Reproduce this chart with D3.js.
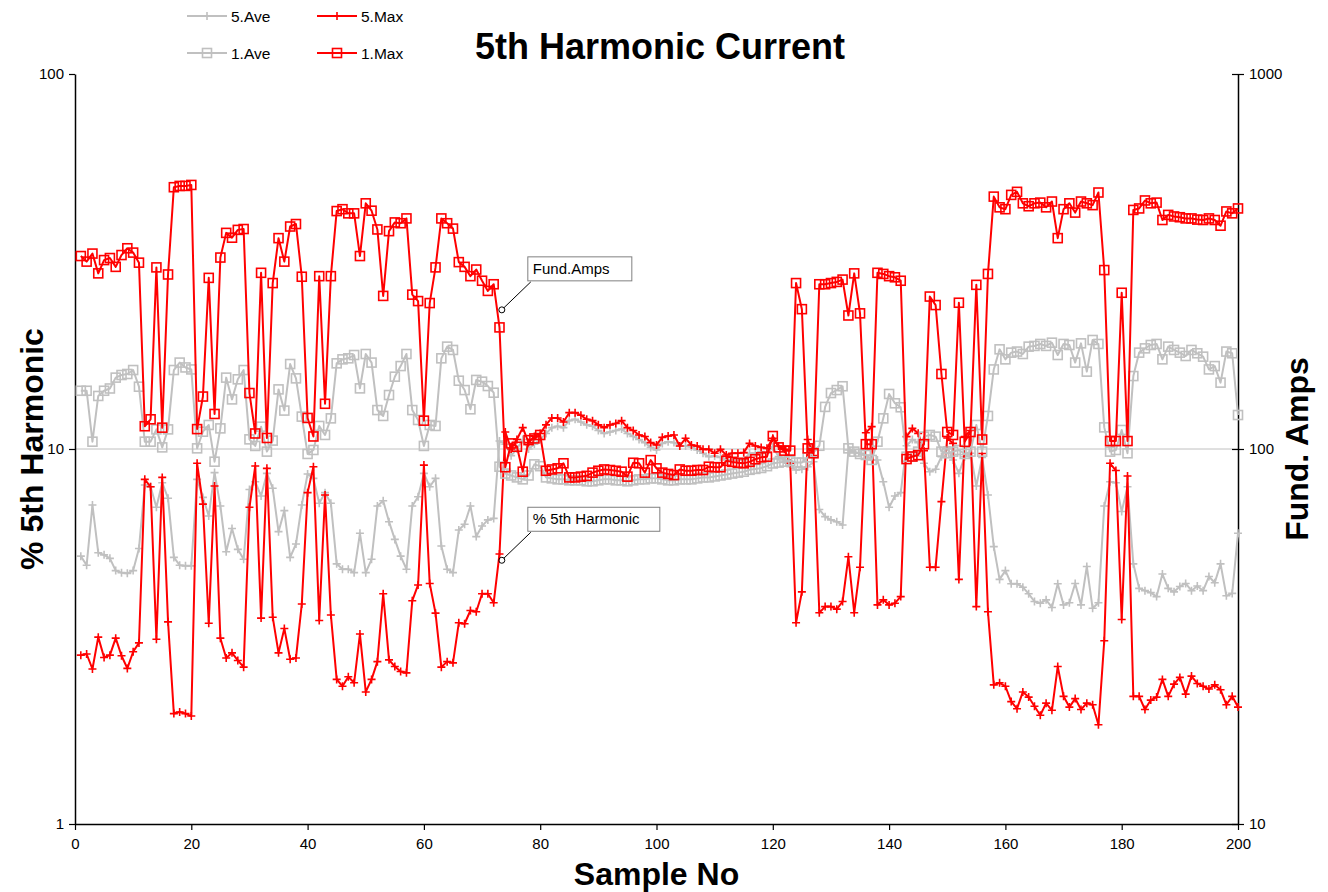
<!DOCTYPE html>
<html lang="en">
<head>
<meta charset="UTF-8">
<title>5th Harmonic Current</title>
<style>
  body { margin: 0; background: #fff; }
  text { font-family: Arial, "Liberation Sans", sans-serif; }
</style>
</head>
<body>
<script src="https://d3js.org/d3.v7.min.js"></script>
<div id="chart"></div>
<script>
// % 5th harmonic (left axis)
var ave5 = [5.18,4.9,7.09,5.29,5.22,5.11,4.74,4.68,4.66,4.74,
  5.43,8.02,7.93,6.99,8.13,7.39,5.14,4.9,4.88,4.88,
  8.3,7.43,6.63,8.65,7.05,5.32,6.14,5.4,5.08,7.8,
  8.18,7.49,8.61,7.86,6.02,6.85,5.14,5.58,7.09,8.58,
  8.35,7.17,7.65,7.17,4.94,4.78,4.78,4.68,5.96,4.68,
  5.08,7.05,7.28,6.4,5.74,5.18,4.78,7.05,7.46,8.61,
  7.93,8.35,5.51,4.78,4.68,6.08,6.3,7.05,5.84,6.23,
  6.47,6.53,10.5,10.3,9.6,10.0,10.6,10.0,10.3,10.6,
  11.0,11.4,11.5,11.4,11.9,12.0,11.8,11.6,11.5,11.2,
  11.0,11.1,11.2,11.3,11.0,10.8,10.6,10.4,10.1,9.94,
  10.35,10.46,10.4,10.19,10.19,10.14,9.94,9.74,9.54,9.58,
  9.5,9.35,9.35,9.39,9.35,9.74,9.74,9.84,9.74,10.14,
  9.54,9.35,8.97,8.79,8.83,8.97,9.25,6.9,6.6,6.47,
  6.4,6.27,9.94,9.78,9.74,9.64,9.35,9.35,8.18,6.99,
  7.49,7.65,10.2,10.6,10.4,9.16,8.7,8.83,9.54,10.14,
  9.35,8.61,9.54,9.74,7.97,9.5,7.54,5.49,4.49,4.74,
  4.37,4.37,4.28,4.11,3.92,3.88,3.96,3.78,4.37,3.84,
  3.89,4.38,3.84,4.86,3.76,3.89,7.05,8.18,8.13,6.81,
  7.93,4.94,4.25,4.19,4.14,4.04,4.64,4.25,4.16,4.3,
  4.38,4.19,4.31,4.19,4.57,4.4,4.94,4.06,4.12,5.96];

var max5 = [2.82,2.84,2.59,3.15,2.78,2.82,3.13,2.81,2.6,2.88,
  3.04,8.3,7.93,3.11,8.4,3.46,1.97,1.99,1.97,1.94,
  9.16,7.13,3.43,7.97,3.13,2.77,2.86,2.73,2.62,6.99,
  9.01,3.54,8.88,3.56,2.86,3.32,2.75,2.77,3.86,7.65,
  8.97,3.49,7.54,3.61,2.43,2.33,2.47,2.38,3.21,2.25,
  2.43,2.71,4.11,2.74,2.63,2.55,2.53,3.94,4.34,9.06,
  4.38,3.65,2.62,2.71,2.69,3.44,3.42,3.71,3.68,4.11,
  4.11,3.89,5.25,11.1,10.0,10.6,11.4,10.4,10.8,11.0,
  11.6,12.1,12.1,11.8,12.5,12.5,12.3,12.0,11.9,11.6,
  11.4,11.6,11.7,11.9,11.4,11.2,10.9,10.8,10.4,10.25,
  10.74,10.83,10.9,10.19,10.68,10.25,10.19,9.98,9.98,9.74,
  9.98,9.64,9.74,9.74,9.78,10.35,10.19,10.1,10.04,10.68,
  10.19,9.98,9.16,3.44,4.16,10.6,9.6,3.66,3.8,3.8,
  3.74,3.92,5.16,3.66,4.84,11.05,11.47,3.84,3.96,3.84,
  3.88,4.04,10.79,11.35,11.01,9.9,4.84,4.84,7.24,10.7,
  10.35,4.49,10.8,11.2,3.8,9.73,3.68,2.35,2.38,2.33,
  2.12,2.03,2.25,2.18,2.06,1.95,2.1,2.01,2.63,2.19,
  2.05,2.16,2.02,2.1,2.08,1.84,3.08,9.16,8.76,3.51,
  8.47,2.19,2.19,2.02,2.14,2.18,2.43,2.19,2.36,2.46,
  2.22,2.48,2.37,2.33,2.29,2.35,2.28,2.08,2.19,2.05];

// fundamental amps (right axis)
var ave1 = [143,143,104.6,138.5,143,145,155,157.5,158.5,162.4,
  146.6,104.6,104.6,112.8,101,112.8,162.4,170,165,163,
  100.4,111.2,115.9,92.5,113.5,155,135.6,153.4,162.4,106.1,
  101.9,114.7,98.4,105.3,144.2,126.6,168.5,154.3,122,97,
  99.4,115.2,109,120.7,169.2,173.4,174.5,178.1,145.1,179.2,
  170,127,122.5,139.3,155.9,166.4,179.2,127,119.5,101.9,
  115.9,115.2,174.5,187.5,183.7,152.1,143.6,127.6,152.8,151.2,
  147.2,141.3,89.7,86,85,84,83,85,91,90,
  84,83.5,83,83,82.5,82.5,82.5,82,82,82.5,
  83,83,82.5,82.5,82,82.5,83,83,83.5,83.5,
  83,82.5,82.5,83,83,83,83.5,84,84,84.5,
  85,85.5,86,86.5,87,88,88.5,89,90,91.5,
  92,92.5,93,92,92,95,98,102,129.5,141,
  143.6,147,100.4,98.4,97,96.4,93.5,104.6,120.7,140.2,
  132.4,129.2,95.4,95.4,98.4,107.9,109,107.9,98.4,97.4,
  98.4,99.4,97,98.4,115.9,98.4,122.5,163,184.4,173.4,
  180.7,181.9,179.2,187.5,188.3,190.6,188.3,192.1,178.1,190.6,
  189.4,170,191.3,160.8,195.3,190.6,114.2,98.4,99.4,112.4,
  97.4,156.5,180.7,185.5,189.4,190.6,173.4,187.5,183.7,180.7,
  177,183.7,180,176.3,163,166.4,150.3,181.9,180,123.2];

var max1 = [327,316,332,294,319,323,306,329,343,334,
  314,115,120,305,114,292,499,503,503,506,
  113,138,286,124,324,377,366,384,386,141,
  110,295,107,277,365,316,392,398,288,121,
  108,289,132,289,431,436,425,425,327,452,
  432,385,256,381,402,400,412,258,248,119,
  245,305,412,400,387,315,306,289,301,281,
  264,275,211,89.4,103.5,101.4,87,105.6,106.7,109,
  87.5,88.2,88.8,91.6,84,84,84.4,84.8,86.5,87.5,
  88.2,87.9,87.5,87,84.4,91.9,91.6,86.5,93.4,88.8,
  86.5,85.8,85.2,88.2,87.5,87.5,87.9,87.9,89.7,89.4,
  89.4,93,92.4,91.9,91.6,92.4,93.9,95,95.4,108.3,
  101,99,99,277,236,100.4,97.4,275,275,277,
  279,283,227,294,230,103,103,295,293,289,
  287,281,94,95.5,96.3,103,255,242,158.5,111,
  109,245.5,104.5,111,274,106,293,471,441,436,
  476,485,452,444,452,454,441,457,365,436,
  452,427,457,452,447,483,300,105,105,261,
  105,434,438,460,452,454,408,421,417,415,
  412,412,409,408,412,408,394,430,425,438];

var sampleNo = d3.range(1, 201);
var xTicks = [0, 20, 40, 60, 80, 100, 120, 140, 160, 180, 200];
var leftTicks = [1, 10, 100];
var rightTicks = [10, 100, 1000];

var W = 1328, H = 892;
var margin = {top: 74, right: 90, bottom: 68, left: 75};

var svg = d3.select("#chart").append("svg")
    .attr("width", W).attr("height", H);

var x = d3.scaleLinear().domain([0, 200]).range([margin.left, W - margin.right]);
var yL = d3.scaleLog().domain([1, 100]).range([H - margin.bottom, margin.top]);
var yR = d3.scaleLog().domain([10, 1000]).range([H - margin.bottom, margin.top]);

var RED = "#ff0000", GREY = "#c0c0c0";

// gridline at 10
svg.append("line")
    .attr("x1", x(0)).attr("x2", x(200))
    .attr("y1", yL(10)).attr("y2", yL(10))
    .attr("stroke", "#c0c0c0").attr("stroke-width", 1);

// axes
var fmt = d3.format("d");
var gx = svg.append("g")
    .attr("transform", "translate(0," + yL(1) + ")")
    .call(d3.axisBottom(x).tickValues(xTicks).tickFormat(fmt).tickSize(6).tickSizeOuter(0).tickPadding(8));
var gl = svg.append("g")
    .attr("transform", "translate(" + x(0) + ",0)")
    .call(d3.axisLeft(yL).tickValues(leftTicks).tickFormat(fmt).tickSize(6).tickSizeOuter(0).tickPadding(5));
var gr = svg.append("g")
    .attr("transform", "translate(" + x(200) + ",0)")
    .call(d3.axisRight(yR).tickValues(rightTicks).tickFormat(fmt).tickSize(6).tickSizeOuter(0).tickPadding(5));
gr.selectAll(".tick line").attr("x1", -6);
[gx, gl, gr].forEach(function(g) {
  g.select(".domain").attr("stroke", "#000").attr("stroke-width", 1.5);
  g.selectAll(".tick line").attr("stroke", "#000").attr("stroke-width", 1.2);
  g.selectAll(".tick text").attr("font-size", 15).attr("fill", "#000")
    .attr("font-family", "Arial, 'Liberation Sans', sans-serif");
});

// series
var series = [
  {name: "5.Ave", values: ave5, y: yL, color: GREY, marker: "plus"},
  {name: "5.Max", values: max5, y: yL, color: RED, marker: "plus"},
  {name: "1.Ave", values: ave1, y: yR, color: GREY, marker: "square"},
  {name: "1.Max", values: max1, y: yR, color: RED, marker: "square"}
];

function drawMarker(sel, type, color) {
  if (type === "plus") {
    sel.append("path").attr("d", "M-4,0H4M0,-4V4")
      .attr("stroke", color).attr("stroke-width", 1.6).attr("fill", "none");
  } else {
    sel.append("rect").attr("x", -4.5).attr("y", -4.5).attr("width", 9).attr("height", 9)
      .attr("stroke", color).attr("stroke-width", 1.6).attr("fill", "none");
  }
}

series.forEach(function(s) {
  var line = d3.line()
    .x(function(d, i) { return x(sampleNo[i]); })
    .y(function(d) { return s.y(d); });
  svg.append("path").datum(s.values)
    .attr("d", line)
    .attr("fill", "none").attr("stroke", s.color).attr("stroke-width", 2)
    .attr("stroke-linejoin", "round");
  svg.append("g").selectAll("g")
    .data(s.values).enter().append("g")
    .attr("transform", function(d, i) { return "translate(" + x(sampleNo[i]) + "," + s.y(d) + ")"; })
    .each(function() { drawMarker(d3.select(this), s.marker, s.color); });
});

// annotations
function callout(cx, cy, label, boxW) {
  var bx = cx + 26, by = cy - 53;
  svg.append("line").attr("x1", cx + 2).attr("y1", cy - 2).attr("x2", bx + 3).attr("y2", by + 25)
    .attr("stroke", "#000").attr("stroke-width", 1);
  svg.append("circle").attr("cx", cx).attr("cy", cy).attr("r", 3)
    .attr("fill", "none").attr("stroke", "#000").attr("stroke-width", 1);
  svg.append("rect").attr("x", bx).attr("y", by).attr("width", boxW).attr("height", 24)
    .attr("fill", "#fff").attr("stroke", "#808080").attr("stroke-width", 1);
  svg.append("text").attr("x", bx + 5).attr("y", by + 17).attr("font-size", 15).text(label);
}
callout(x(73.4), yR(235), "Fund.Amps", 104);
callout(x(73.4), yL(5.05), "% 5th Harmonic", 132);

// titles
svg.append("text").attr("x", 660).attr("y", 59).attr("text-anchor", "middle")
  .attr("font-size", 36).attr("font-weight", "bold").text("5th Harmonic Current");
svg.append("text").attr("x", (x(0) + x(200)) / 2).attr("y", 885).attr("text-anchor", "middle")
  .attr("font-size", 32).attr("font-weight", "bold").text("Sample No");
svg.append("text").attr("transform", "translate(43," + yL(10) + ") rotate(-90)")
  .attr("text-anchor", "middle").attr("font-size", 32).attr("font-weight", "bold").text("% 5th Harmonic");
svg.append("text").attr("transform", "translate(1308," + yL(10) + ") rotate(-90)")
  .attr("text-anchor", "middle").attr("font-size", 32).attr("font-weight", "bold").text("Fund. Amps");

// legend
var legendPos = [
  {lx: 187, ly: 16}, {lx: 317, ly: 16},
  {lx: 187, ly: 53}, {lx: 317, ly: 53}
];
series.forEach(function(s, i) {
  var p = legendPos[i];
  var g = svg.append("g");
  g.append("line").attr("x1", p.lx).attr("x2", p.lx + 40).attr("y1", p.ly).attr("y2", p.ly)
    .attr("stroke", s.color).attr("stroke-width", 2);
  drawMarker(g.append("g").attr("transform", "translate(" + (p.lx + 20) + "," + p.ly + ")"), s.marker, s.color);
  g.append("text").attr("x", p.lx + 44).attr("y", p.ly + 5.5).attr("font-size", 15.5).text(s.name);
});
</script>
</body>
</html>
